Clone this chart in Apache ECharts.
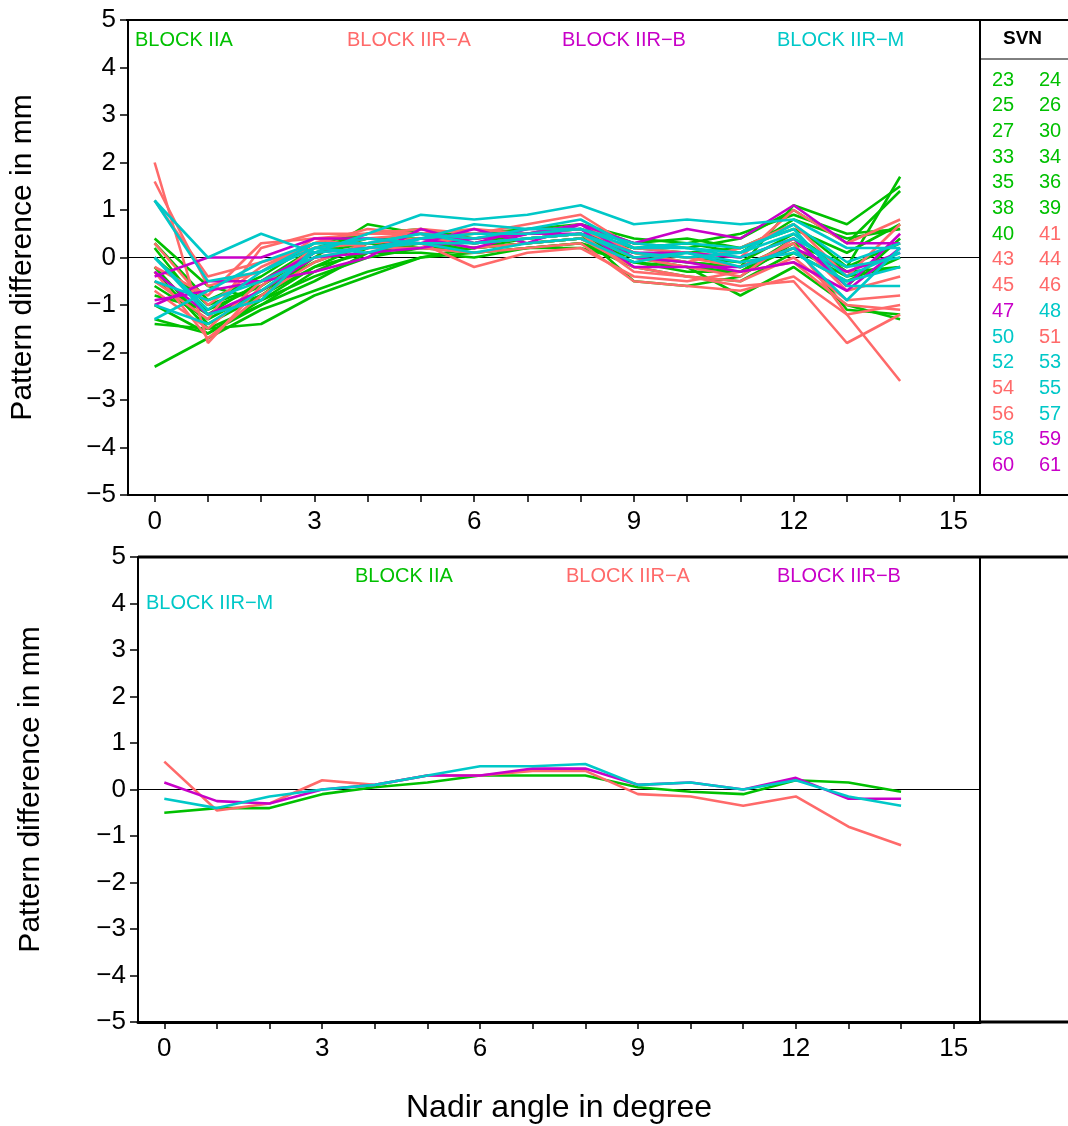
<!DOCTYPE html>
<html>
<head>
<meta charset="utf-8">
<script src="https://cdn.jsdelivr.net/npm/echarts@6.0.0/dist/echarts.min.js"></script>
<style>html,body{margin:0;padding:0;background:#fff}#chart{width:1068px;height:1126px}</style>
</head>
<body>
<div id="chart"></div>
<script>
var nadir = [0,1,2,3,4,5,6,7,8,9,10,11,12,13,14];
var blockNames = ['BLOCK IIA','BLOCK IIR-A','BLOCK IIR-B','BLOCK IIR-M'];
var blockColors = ['#00c000','#ff6a6a','#c800c8','#00c8c8'];

// per-satellite pattern differences (mm), top panel
var svnIIA = [23,24,25,26,27,30,33,34,35,36,38,39,40];
var satIIA = [
  [-2.3,-1.7,-1.1,-0.7,-0.3,0.0,0.1,0.2,0.3,0.0,-0.1,-0.2,0.3,-0.2,1.7],
  [-1.4,-1.5,-1.4,-0.8,-0.4,0.0,0.2,0.4,0.5,-0.5,-0.6,-0.4,0.3,-1.1,-1.2],
  [0.4,-0.6,-0.9,-0.2,0.1,0.3,0.2,0.3,0.4,0.1,-0.1,-0.2,1.1,0.7,1.5],
  [0.2,-1.2,-0.8,0.0,0.7,0.5,0.3,0.4,0.5,0.2,0.3,0.1,0.8,0.4,0.6],
  [-0.3,-1.5,-1.0,-0.3,0.2,0.4,0.5,0.6,0.7,0.3,0.2,0.4,1.0,0.3,1.4],
  [-0.6,-1.3,-0.7,-0.1,0.3,0.3,0.2,0.3,0.4,0.0,-0.2,-0.8,-0.2,-1.0,-1.3],
  [-1.3,-1.6,-0.9,-0.4,0.0,0.2,0.1,0.2,0.3,-0.2,-0.4,-0.5,0.1,-0.5,0.0],
  [0.0,-1.0,-0.6,0.1,0.4,0.4,0.3,0.4,0.5,0.2,0.1,0.2,0.6,0.1,0.7],
  [-0.5,-1.2,-0.5,0.2,0.5,0.5,0.3,0.5,0.6,0.3,0.4,0.2,0.7,-0.2,0.3],
  [-0.2,-1.4,-0.8,-0.2,0.3,0.3,0.4,0.5,0.6,0.1,0.0,-0.1,0.5,-0.3,-0.2],
  [-0.8,-1.1,-0.6,0.1,0.3,0.2,0.2,0.3,0.4,-0.1,-0.2,-0.3,0.4,-0.6,0.4],
  [0.3,-0.9,-0.4,0.3,0.5,0.6,0.4,0.5,0.7,0.4,0.3,0.5,0.9,0.5,0.6],
  [-1.0,-1.6,-1.0,-0.5,0.1,0.1,0.0,0.2,0.2,-0.1,-0.3,-0.3,0.2,-0.4,-0.2]
];
var svnIIRA = [41,43,44,45,46,51,54,56];
var satIIRA = [
  [2.0,-1.8,-0.6,0.2,0.3,0.4,0.2,0.3,0.4,-0.2,-0.4,-0.6,-0.5,-1.8,-1.2],
  [1.6,-0.6,-0.3,0.4,0.5,0.5,0.4,0.5,0.6,0.1,0.0,-0.2,0.3,-1.2,-2.6],
  [-0.3,-1.7,-0.8,-0.1,0.3,0.4,0.3,0.4,0.5,-0.3,-0.4,-0.5,0.0,-0.9,-0.8],
  [-0.5,-1.3,0.2,0.5,0.5,0.6,0.5,0.7,0.9,0.2,0.1,0.0,1.0,0.3,0.8],
  [-0.2,-0.8,0.3,0.4,0.2,0.3,-0.2,0.1,0.2,-0.4,-0.5,-0.3,-0.1,-1.0,-1.1],
  [0.3,-1.0,-0.2,0.3,0.6,0.5,0.3,0.4,0.5,0.0,-0.2,-0.4,0.4,-0.7,-0.4],
  [-0.7,-1.5,-0.5,0.0,0.2,0.2,0.1,0.2,0.3,-0.5,-0.6,-0.7,-0.4,-1.2,-1.0],
  [1.2,-0.4,-0.1,0.2,0.4,0.5,0.6,0.5,0.7,0.1,-0.1,0.2,0.7,-0.4,0.7]
];
var svnIIRB = [47,59,60,61];
var satIIRB = [
  [-0.4,0.0,0.0,0.4,0.4,0.3,0.6,0.3,0.7,0.3,0.6,0.4,1.1,0.3,0.3],
  [-1.0,-0.5,-0.5,0.1,0.2,0.4,0.2,0.5,0.5,0.1,0.1,0.0,0.4,-0.6,0.5],
  [-0.3,-1.2,-0.7,0.0,0.1,0.2,0.4,0.5,0.7,0.0,-0.1,-0.3,-0.1,-0.7,0.2],
  [-0.9,-0.7,-0.5,-0.3,0.0,0.6,0.3,0.6,0.6,-0.2,-0.2,-0.2,0.2,-0.3,0.1]
];
var svnIIRM = [48,50,52,53,55,57,58];
var satIIRM = [
  [1.2,0.0,0.5,0.1,0.5,0.9,0.8,0.9,1.1,0.7,0.8,0.7,0.8,0.2,0.2],
  [-1.3,-0.7,-0.1,0.3,0.3,0.5,0.4,0.6,0.8,0.2,0.3,0.2,0.6,-0.6,-0.6],
  [1.2,-0.5,-0.3,0.2,0.1,0.4,0.7,0.6,0.6,0.2,0.2,0.0,0.4,-0.2,0.0],
  [-1.0,-1.4,-0.7,0.1,0.2,0.3,0.3,0.4,0.5,0.0,0.1,-0.2,0.2,-0.9,0.2],
  [0.0,-1.2,-0.9,0.2,0.4,0.3,0.1,0.3,0.4,-0.1,0.1,-0.1,0.1,-0.5,-0.2],
  [-0.5,-0.9,-0.5,0.0,0.2,0.4,0.5,0.5,0.6,0.3,0.2,0.1,0.7,-0.1,0.3],
  [0.0,-1.1,-0.3,0.3,0.3,0.5,0.3,0.4,0.5,0.1,0.0,0.1,0.5,-0.4,0.1]
];

// block means, bottom panel
var meanIIA  = [-0.5,-0.4,-0.4,-0.1,0.05,0.15,0.3,0.3,0.3,0.05,-0.05,-0.1,0.2,0.15,-0.05];
var meanIIRA = [0.6,-0.45,-0.3,0.2,0.1,0.3,0.3,0.4,0.4,-0.1,-0.15,-0.35,-0.15,-0.8,-1.2];
var meanIIRB = [0.15,-0.25,-0.3,0.0,0.1,0.3,0.3,0.45,0.45,0.1,0.15,0.0,0.25,-0.2,-0.2];
var meanIIRM = [-0.2,-0.4,-0.15,0.0,0.1,0.3,0.5,0.5,0.55,0.1,0.15,0.0,0.2,-0.15,-0.35];

// SVN table (left column, right column)
var svnLeft  = [23,25,27,33,35,38,40,43,45,47,50,52,54,56,58,60];
var svnRight = [24,26,30,34,36,39,41,44,46,48,51,53,55,57,59,61];
function svnColor(s){
  if (svnIIA.indexOf(s) >= 0) return blockColors[0];
  if (svnIIRA.indexOf(s) >= 0) return blockColors[1];
  if (svnIIRB.indexOf(s) >= 0) return blockColors[2];
  return blockColors[3];
}

var chart = echarts.init(document.getElementById('chart'));
var font = 'Liberation Sans, Arial, sans-serif';
var series = [];
function addLines(arr, color, gi){
  arr.forEach(function(v){
    series.push({type:'line', xAxisIndex:gi, yAxisIndex:gi, data:nadir.map(function(x,i){return [x,v[i]];}),
      symbol:'none', lineStyle:{color:color, width:2.6}, silent:true, z:3});
  });
}
addLines(satIIA, blockColors[0], 0);
addLines(satIIRA, blockColors[1], 0);
addLines(satIIRB, blockColors[2], 0);
addLines(satIIRM, blockColors[3], 0);
addLines([meanIIA], blockColors[0], 1);
addLines([meanIIRA], blockColors[1], 1);
addLines([meanIIRB], blockColors[2], 1);
addLines([meanIIRM], blockColors[3], 1);
[0,1].forEach(function(g){
  series.push({type:'line', xAxisIndex:g, yAxisIndex:g, data:[[-0.5,0],[15.5,0]], symbol:'none',
    lineStyle:{color:'#000', width:1}, silent:true, z:2});
});

var ticks = nadir.concat([15]);
function xAx(g){
  return {type:'value', gridIndex:g, min:-0.5, max:15.5,
    axisLine:{onZero:false, lineStyle:{color:'#000', width: g===1?3:2}},
    axisTick:{customValues:ticks, length:7, inside:false, lineStyle:{color:'#000', width:1.5}},
    axisLabel:{customValues:[0,3,6,9,12,15], fontSize:26, color:'#000', fontFamily:font, margin:14},
    splitLine:{show:false}};
}
function yAx(g){
  return {type:'value', gridIndex:g, min:-5, max:5, interval:1,
    name:'Pattern difference in mm', nameLocation:'middle', nameGap:g===0?90:92,
    nameTextStyle:{fontSize:30, color:'#000', fontFamily:font},
    axisLine:{onZero:false, lineStyle:{color:'#000', width:2}},
    axisTick:{length:8, lineStyle:{color:'#000', width:1.5}},
    axisLabel:{fontSize:26, color:'#000', fontFamily:font, margin:12,
      formatter:function(v){return v<0 ? '\u2212'+(-v) : ''+v;}},
    splitLine:{show:false}};
}

var graphics = [];
function label(x,y,t,c){graphics.push({type:'text', left:x, top:y, style:{text:t, fill:c, fontSize:20, fontFamily:font}});}
label(135,30,'BLOCK IIA',blockColors[0]);
label(347,30,'BLOCK IIR\u2212A',blockColors[1]);
label(562,30,'BLOCK IIR\u2212B',blockColors[2]);
label(777,30,'BLOCK IIR\u2212M',blockColors[3]);
label(355,566,'BLOCK IIA',blockColors[0]);
label(566,566,'BLOCK IIR\u2212A',blockColors[1]);
label(777,566,'BLOCK IIR\u2212B',blockColors[2]);
label(146,593,'BLOCK IIR\u2212M',blockColors[3]);
graphics.push({type:'line', shape:{x1:126,y1:20,x2:1068,y2:20}, style:{stroke:'#000', lineWidth:2}});
graphics.push({type:'line', shape:{x1:980,y1:20,x2:980,y2:495}, style:{stroke:'#000', lineWidth:2}});
graphics.push({type:'line', shape:{x1:980,y1:495,x2:1068,y2:495}, style:{stroke:'#000', lineWidth:2}});
graphics.push({type:'line', shape:{x1:980,y1:59,x2:1068,y2:59}, style:{stroke:'#000', lineWidth:1}});
graphics.push({type:'text', left:1003, top:29, style:{text:'SVN', fill:'#000', fontSize:19, fontWeight:'bold', fontFamily:font}});
graphics.push({type:'line', shape:{x1:138,y1:557,x2:1068,y2:557}, style:{stroke:'#000', lineWidth:3}});
graphics.push({type:'line', shape:{x1:980,y1:557,x2:980,y2:1022}, style:{stroke:'#000', lineWidth:2}});
graphics.push({type:'line', shape:{x1:980,y1:1022,x2:1068,y2:1022}, style:{stroke:'#000', lineWidth:3}});
svnLeft.forEach(function(s,i){
  graphics.push({type:'text', left:992, top:70+i*25.7, style:{text:''+s, fill:svnColor(s), fontSize:20, fontFamily:font}});
  var r = svnRight[i];
  graphics.push({type:'text', left:1039, top:70+i*25.7, style:{text:''+r, fill:svnColor(r), fontSize:20, fontFamily:font}});
});

chart.setOption({
  animation:false,
  grid:[{left:126, top:20, width:854, height:475},{left:138, top:557, width:842, height:465}],
  xAxis:[xAx(0), (function(){var a=xAx(1); a.name='Nadir angle in degree'; a.nameLocation='middle'; a.nameGap=70;
    a.nameTextStyle={fontSize:32, color:'#000', fontFamily:font}; return a;})()],
  yAxis:[yAx(0), yAx(1)],
  series:series,
  graphic:graphics
});
</script>
</body>
</html>
